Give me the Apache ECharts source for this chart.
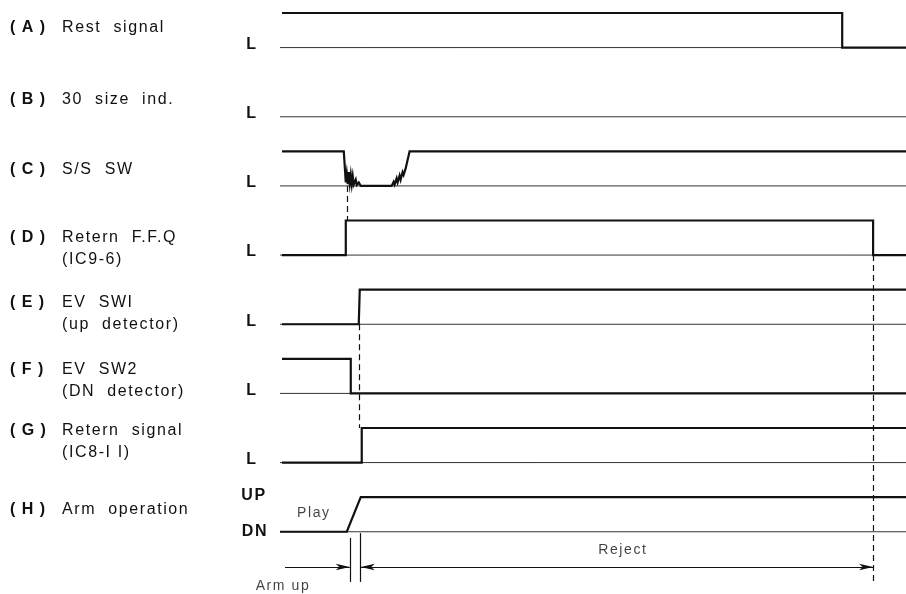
<!DOCTYPE html>
<html>
<head>
<meta charset="utf-8">
<script src="https://cdn.jsdelivr.net/npm/echarts@6/dist/echarts.min.js"></script>
<style>
  html, body { margin: 0; padding: 0; background: #fff; }
  #chart { width: 906px; height: 594px; }
</style>
</head>
<body>
<div id="chart"></div>
<script>
// time runs 0..626 (arbitrary units), each row: level 0 = L, level 1 = H
const T_END = 626;
const rowIds = ['A', 'B', 'C', 'D', 'E', 'F', 'G', 'H'];
const rowTexts = [
    ['Rest  signal'],
    ['30  size  ind.'],
    ['S/S  SW'],
    ['Retern  F.F.Q', '(IC9-6)'],
    ['EV  SWI', '(up  detector)'],
    ['EV  SW2', '(DN  detector)'],
    ['Retern  signal', '(IC8-I I)'],
    ['Arm  operation']
];

// signal waveforms [t, level]
const sigA = [[0, 1], [562, 1], [562, 0], [626, 0]];
const sigB = [];
const sigC = [[0, 1], [62, 1], [64, 0.1], [65, 0.35], [66, 0.05], [67, 0.4], [68, 0.08], [69, 0.32],
    [70, 0.05], [71, 0.28], [72, 0.04], [74, 0.18], [75, 0.03], [77, 0.1], [79, 0], [110, 0],
    [112, 0.12], [113, 0.04], [115, 0.22], [116, 0.1], [118, 0.3], [119, 0.18], [121, 0.4],
    [122, 0.32], [124, 0.5], [128, 1], [626, 1]];
const sigD = [[0, 0], [64, 0], [64, 1], [593, 1], [593, 0], [626, 0]];
const sigE = [[0, 0], [77, 0], [78, 1], [626, 1]];
const sigF = [[0, 1], [69, 1], [69, 0], [626, 0]];
const sigG = [[0, 0], [80, 0], [80, 1], [626, 1]];
const sigH = [[-2, 0], [65, 0], [79, 1], [626, 1]];
const signals = [sigA, sigB, sigC, sigD, sigE, sigF, sigG, sigH];

// dashed guides [t, yFrom, yTo]  (y = level - 2 * row)
const dashedGuides = [[65, -4, -5], [78, -8, -11], [593, -6, -15.45]];
// solid ticks of the arm-up interval [t, yFrom, yTo]
const armTicks = [[68, -14.18, -15.45], [79, -14.04, -15.45]];
// dimension arrows [tFrom, tTo, y, symbolStart, symbolEnd]
const dimArrows = [[3, 68, -15.02, 'none', 'arrow'], [79, 593, -15.02, 'arrow', 'arrow']];
// free notes [t, y, text]
const notes = [[32, -13.46, 'Play'], [342, -14.53, 'Reject'], [1, -15.57, 'Arm up']];

const FONT = '"Liberation Sans", Arial, sans-serif';
const INK = '#111';

const chart = echarts.init(document.getElementById('chart'));

const series = [];
rowIds.forEach(function (id, r) {
    // thin L reference line
    series.push({
        type: 'line', silent: true, showSymbol: false, animation: false,
        data: [[-2, -2 * r], [T_END, -2 * r]],
        lineStyle: { color: '#333', width: 1 }, z: 2
    });
    if (signals[r].length) {
        series.push({
            type: 'line', silent: true, showSymbol: false, animation: false,
            data: signals[r].map(function (p) { return [p[0], p[1] - 2 * r]; }),
            lineStyle: { color: INK, width: 2.2, join: 'miter' }, z: 3
        });
    }
});

series.push({
    type: 'line', data: [], animation: false, silent: true,
    markLine: {
        silent: true, animation: false, symbol: 'none',
        label: { show: false },
        data: dashedGuides.map(function (d) {
            return [{ coord: [d[0], d[1]], lineStyle: { type: [6, 4], width: 1.2, color: INK } },
                    { coord: [d[0], d[2]] }];
        }).concat(armTicks.map(function (d) {
            return [{ coord: [d[0], d[1]], lineStyle: { type: 'solid', width: 1.2, color: INK } },
                    { coord: [d[0], d[2]] }];
        })).concat(dimArrows.map(function (d) {
            return [{ coord: [d[0], d[2]], symbol: d[3], lineStyle: { type: 'solid', width: 1.2, color: INK } },
                    { coord: [d[1], d[2]], symbol: d[4] }];
        })),
        symbolSize: [5, 14]
    }
});

series.push({
    type: 'scatter', animation: false, silent: true, symbolSize: 0,
    data: notes.map(function (n) { return { value: [n[0], n[1]], name: n[2] }; }),
    label: {
        show: true, position: 'inside', formatter: '{b}',
        color: INK, fontFamily: FONT, fontSize: 14
    }
});

chart.setOption({
    backgroundColor: '#fff',
    animation: false,
    grid: { left: 280, right: 0, top: 13, bottom: 0 },
    xAxis: { type: 'value', min: -2, max: T_END, show: false },
    yAxis: { type: 'value', min: -15.8, max: 1, show: false },
    series: series
});

// the scanned original uses loosely tracked lettering
document.querySelectorAll('#chart canvas').forEach(function (c) {
    c.getContext('2d').letterSpacing = '1.6px';
});

// side texts, anchored to each row's L line
const labelY = [30, 102, 172, 240, 305, 372, 433, 512];
const graphics = [];
rowIds.forEach(function (id, r) {
    const yBase = chart.convertToPixel({ gridIndex: 0 }, [0, -2 * r])[1];
    graphics.push({
        type: 'text', left: 10, top: labelY[r] - 10,
        style: { text: '(\u2009' + id + '\u2009)', font: 'bold 16px ' + FONT, fill: INK }
    });
    rowTexts[r].forEach(function (t, k) {
        graphics.push({
            type: 'text', left: 62, top: labelY[r] - 10 + k * 22,
            style: { text: t, font: '16px ' + FONT, fill: INK }
        });
    });
    if (r < 7) {
        graphics.push({
            type: 'text', x: 252, y: yBase - 3,
            style: { text: 'L', font: 'bold 16px ' + FONT, fill: INK, align: 'center', verticalAlign: 'middle' }
        });
    } else {
        const yUp = chart.convertToPixel({ gridIndex: 0 }, [0, 1 - 2 * r])[1];
        graphics.push({
            type: 'text', x: 254, y: yUp - 2,
            style: { text: 'UP', font: 'bold 16px ' + FONT, fill: INK, align: 'center', verticalAlign: 'middle' }
        });
        graphics.push({
            type: 'text', x: 255, y: yBase,
            style: { text: 'DN', font: 'bold 16px ' + FONT, fill: INK, align: 'center', verticalAlign: 'middle' }
        });
    }
});
chart.setOption({ graphic: graphics });
</script>
</body>
</html>
